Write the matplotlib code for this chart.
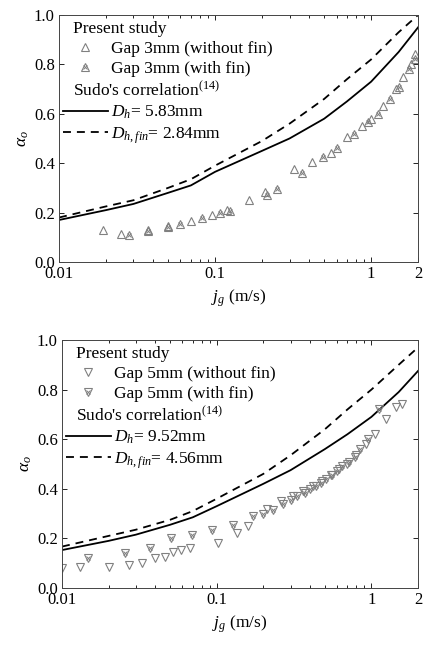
import numpy as np
import matplotlib
matplotlib.use("Agg")
import matplotlib.pyplot as plt
from matplotlib.lines import Line2D
from matplotlib.ticker import FixedLocator, LogLocator, NullFormatter

# ============================================================
# DATA
# ============================================================

# --- Sudo's correlation curves ---
corr_jg = [0.01, 0.02, 0.03, 0.05, 0.07, 0.1, 0.2, 0.3, 0.5, 0.7, 1.0, 1.5, 2.0]

gap3_dh = [0.17, 0.21, 0.235, 0.28, 0.31, 0.365, 0.45, 0.50, 0.58, 0.65, 0.73, 0.85, 0.95]
gap3_dhfin = [0.18, 0.225, 0.25, 0.30, 0.335, 0.39, 0.49, 0.56, 0.66, 0.74, 0.82, 0.93, 1.0]

gap5_dh = [0.153, 0.19, 0.215, 0.255, 0.285, 0.33, 0.42, 0.475, 0.56, 0.62, 0.69, 0.79, 0.875]
gap5_dhfin = [0.167, 0.21, 0.235, 0.275, 0.31, 0.36, 0.46, 0.535, 0.64, 0.72, 0.80, 0.90, 0.97]

# --- Gap 3mm measurements ---
g3_nofin_jg = [0.019, 0.025, 0.037, 0.05, 0.07, 0.095, 0.12, 0.165, 0.21, 0.32,
               0.42, 0.55, 0.70, 0.88, 1.0, 1.2, 1.45, 1.6, 1.8, 1.92]
g3_nofin_a = [0.13, 0.115, 0.13, 0.145, 0.165, 0.19, 0.21, 0.25, 0.285, 0.375,
              0.405, 0.44, 0.505, 0.55, 0.58, 0.63, 0.70, 0.75, 0.80, 0.84]
g3_fin_jg = [0.028, 0.037, 0.05, 0.06, 0.082, 0.108, 0.125, 0.215, 0.25, 0.36,
             0.49, 0.60, 0.78, 0.95, 1.1, 1.32, 1.5, 1.75, 1.9]
g3_fin_a = [0.11, 0.125, 0.14, 0.155, 0.177, 0.2, 0.205, 0.27, 0.295, 0.36,
            0.425, 0.46, 0.52, 0.565, 0.60, 0.66, 0.71, 0.78, 0.82]

# --- Gap 5mm measurements ---
g5_nofin_jg = [0.010, 0.013, 0.020, 0.027, 0.033, 0.040, 0.046, 0.052, 0.059, 0.067,
               0.102, 0.135, 0.16, 0.21, 0.26, 0.31, 0.36, 0.42, 0.48, 0.55,
               0.62, 0.70, 0.80, 0.92, 1.05, 1.25, 1.45, 1.58]
g5_nofin_a = [0.08, 0.086, 0.086, 0.093, 0.10, 0.12, 0.126, 0.146, 0.153, 0.16,
              0.18, 0.22, 0.25, 0.32, 0.35, 0.37, 0.39, 0.41, 0.43, 0.455,
              0.48, 0.50, 0.535, 0.58, 0.62, 0.68, 0.73, 0.74]
g5_fin_jg = [0.0148, 0.0255, 0.037, 0.051, 0.069, 0.093, 0.128, 0.172, 0.20, 0.23,
             0.27, 0.30, 0.33, 0.37, 0.40, 0.44, 0.47, 0.51, 0.56, 0.60,
             0.65, 0.72, 0.78, 0.85, 0.95, 1.12]
g5_fin_a = [0.12, 0.14, 0.16, 0.20, 0.214, 0.234, 0.254, 0.29, 0.30, 0.315,
            0.34, 0.355, 0.37, 0.385, 0.40, 0.41, 0.425, 0.44, 0.455, 0.47,
            0.49, 0.51, 0.53, 0.56, 0.60, 0.72]

xtick_vals = [0.01, 0.1, 1, 2]
xtick_labels = ["0.01", "0.1", "1", "2"]
ytick_vals = [0.0, 0.2, 0.4, 0.6, 0.8, 1.0]

# ============================================================
# STYLE
# ============================================================

plt.rcParams["font.family"] = ["Liberation Serif", "DejaVu Serif"]
plt.rcParams["mathtext.fontset"] = "custom"
plt.rcParams["mathtext.rm"] = "Liberation Serif"
plt.rcParams["mathtext.it"] = "Liberation Serif:italic"

FS = 12.5
mk_col = "#808080"
dash = (0, (4.4, 3.3))

fig = plt.figure(figsize=(4.26, 6.48), dpi=100)
ax_top = fig.add_axes([0.1385, 0.5957, 0.843, 0.3812])
ax_bot = fig.add_axes([0.1455, 0.0926, 0.8357, 0.3827])


def draw_panel(ax, open_jg, open_a, fin_jg, fin_a, dh, dhfin, marker, gap, dh_txt, dhfin_txt, head_shift):
    ax.plot(corr_jg, dh, color="black", lw=1.3)
    ax.plot(corr_jg, dhfin, color="black", lw=1.3, linestyle=dash)

    kw = dict(linestyle="none", markerfacecolor="none", markeredgecolor=mk_col,
              markeredgewidth=0.8, markersize=6)
    p_open, = ax.plot(open_jg, open_a, marker=marker, **kw)
    p_fin, = ax.plot(fin_jg, fin_a, marker=marker, **kw)
    p_x, = ax.plot(fin_jg, fin_a, marker="x", linestyle="none", color=mk_col,
                   markersize=3.5, markeredgewidth=0.7)

    ax.set_xscale("log")
    ax.set_xlim(0.01, 2)
    ax.set_ylim(0.0, 1.0)
    ax.xaxis.set_major_locator(FixedLocator(xtick_vals))
    ax.set_xticklabels(xtick_labels)
    ax.xaxis.set_minor_locator(LogLocator(base=10, subs=np.arange(2, 10)))
    ax.xaxis.set_minor_formatter(NullFormatter())
    ax.set_yticks(ytick_vals)
    ax.set_yticklabels([f"{v:.1f}" for v in ytick_vals])
    ax.tick_params(which="both", direction="in", top=True, right=True,
                   labelsize=12, width=0.6, pad=3)
    ax.tick_params(which="major", length=3.5)
    ax.tick_params(which="minor", length=2)
    for s in ax.spines.values():
        s.set_linewidth(0.7)
        s.set_color("#444444")

    ax.set_xlabel("$j_g$ (m/s)", fontsize=12.5, labelpad=4)
    ax.set_ylabel(r"$\alpha_o$", fontsize=12.5, labelpad=2)

    blank = Line2D([], [], linestyle="none")
    handles = [blank, p_open, (p_fin, p_x), blank,
               Line2D([], [], color="black", lw=1.3),
               Line2D([], [], color="black", lw=1.3, linestyle=dash)]
    labels = ["Present study",
              f"Gap {gap} (without fin)",
              f"Gap {gap} (with fin)",
              "Sudo's correlation$^{(14)}$",
              dh_txt, dhfin_txt]
    leg = ax.legend(handles, labels, loc="upper left", bbox_to_anchor=(0.01, 0.975),
                    frameon=False, fontsize=FS, handlelength=2.6, handletextpad=0.2,
                    labelspacing=0.22, borderaxespad=0, borderpad=0, numpoints=1)
    for i in (0, 3):
        leg.get_texts()[i].set_x(-head_shift)


draw_panel(ax_top, g3_nofin_jg, g3_nofin_a, g3_fin_jg, g3_fin_a, gap3_dh, gap3_dhfin,
           "^", "3mm", "$D_h$= 5.83mm", "$D_{h,fin}$= 2.84mm", 38)
draw_panel(ax_bot, g5_nofin_jg, g5_nofin_a, g5_fin_jg, g5_fin_a, gap5_dh, gap5_dhfin,
           "v", "5mm", "$D_h$= 9.52mm", "$D_{h,fin}$= 4.56mm", 38)

fig.savefig("out.png", dpi=100)
